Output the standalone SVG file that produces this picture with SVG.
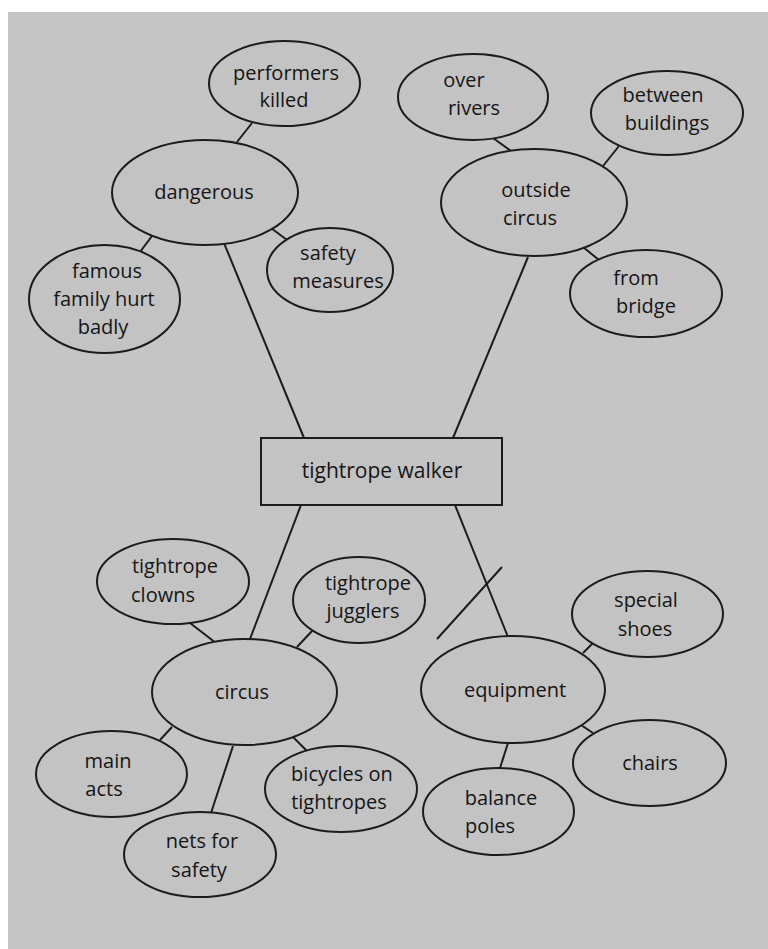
<svg xmlns="http://www.w3.org/2000/svg" width="768" height="949" viewBox="0 0 768 949">
<defs>
<style>
.bg{fill:#c5c5c5}
.n ellipse,.n rect{fill:#c3c3c3;stroke:#1c1c1c;stroke-width:2}
.n text{font-family:"Open Sans","Liberation Sans",sans-serif;font-size:20px;fill:#151515;text-anchor:middle}
.c line{stroke:#1c1c1c;stroke-width:2;fill:none}
</style>
</defs>
<rect width="768" height="949" fill="#ffffff"/>
<rect class="bg" x="8" y="12" width="760" height="937"/>
<g id="connectors" class="c">
<line x1="224" y1="243" x2="304" y2="438"/>
<line x1="528" y1="257" x2="453" y2="438"/>
<line x1="301" y1="505" x2="250" y2="639"/>
<line x1="455" y1="505" x2="508" y2="637"/>
<line x1="252" y1="123" x2="237" y2="142"/>
<line x1="152" y1="236" x2="140" y2="252"/>
<line x1="271" y1="228" x2="287" y2="240"/>
<line x1="493" y1="138" x2="511" y2="151"/>
<line x1="619" y1="146" x2="603" y2="166"/>
<line x1="583" y1="247" x2="599" y2="260"/>
<line x1="190" y1="623" x2="216" y2="643"/>
<line x1="313" y1="630" x2="297" y2="647"/>
<line x1="172" y1="727" x2="160" y2="740"/>
<line x1="233" y1="746" x2="211" y2="813"/>
<line x1="293" y1="737" x2="308" y2="752"/>
<line x1="583" y1="653" x2="593" y2="643"/>
<line x1="581" y1="725" x2="593" y2="733"/>
<line x1="508" y1="743" x2="500" y2="768"/>
<line x1="437" y1="639" x2="502" y2="567" stroke-width="1.5"/>
</g>
<g id="center" class="n"><rect x="261" y="438" width="241" height="67"/><text x="382" y="478" style="font-size:21px">tightrope walker</text></g>
<g id="dangerous" class="n"><ellipse cx="205" cy="192.5" rx="93" ry="52.5"/><text x="204" y="199">dangerous</text></g>
<g id="performers" class="n"><ellipse cx="284.5" cy="83.5" rx="75.5" ry="42.5"/><text x="286" y="80">performers</text><text x="284" y="107">killed</text></g>
<g id="famous" class="n"><ellipse cx="104.5" cy="299" rx="75.5" ry="54"/><text x="107" y="278">famous</text><text x="104" y="306">family hurt</text><text x="103" y="334">badly</text></g>
<g id="safety" class="n"><ellipse cx="330" cy="270" rx="63" ry="42"/><text x="328" y="260">safety</text><text x="338" y="288">measures</text></g>
<g id="outside" class="n"><ellipse cx="534" cy="202.5" rx="93" ry="53.5"/><text x="536" y="197">outside</text><text x="530" y="225">circus</text></g>
<g id="rivers" class="n"><ellipse cx="473" cy="97" rx="75" ry="43"/><text x="464" y="87">over</text><text x="474" y="115">rivers</text></g>
<g id="buildings" class="n"><ellipse cx="667" cy="113" rx="76" ry="42"/><text x="663" y="102">between</text><text x="667" y="130">buildings</text></g>
<g id="bridge" class="n"><ellipse cx="646" cy="293.5" rx="76" ry="43.5"/><text x="636" y="285">from</text><text x="646" y="313">bridge</text></g>
<g id="circus" class="n"><ellipse cx="244.5" cy="692" rx="92.5" ry="53"/><text x="242" y="699">circus</text></g>
<g id="clowns" class="n"><ellipse cx="173" cy="581.5" rx="76" ry="42.5"/><text x="175" y="573">tightrope</text><text x="163" y="602">clowns</text></g>
<g id="jugglers" class="n"><ellipse cx="359" cy="600" rx="66" ry="43"/><text x="368" y="590">tightrope</text><text x="363" y="618">jugglers</text></g>
<g id="mainacts" class="n"><ellipse cx="111.5" cy="774" rx="75.5" ry="43"/><text x="108" y="768">main</text><text x="104" y="796">acts</text></g>
<g id="nets" class="n"><ellipse cx="200" cy="854.5" rx="76" ry="42.5"/><text x="202" y="848">nets for</text><text x="199" y="877">safety</text></g>
<g id="bicycles" class="n"><ellipse cx="341" cy="789" rx="76" ry="43"/><text x="342" y="781">bicycles on</text><text x="339" y="809">tightropes</text></g>
<g id="equipment" class="n"><ellipse cx="513" cy="689.5" rx="92" ry="53.5"/><text x="515" y="697">equipment</text></g>
<g id="shoes" class="n"><ellipse cx="647.5" cy="614" rx="75.5" ry="43"/><text x="646" y="607">special</text><text x="645" y="636">shoes</text></g>
<g id="chairs" class="n"><ellipse cx="649.5" cy="763" rx="76.5" ry="43"/><text x="650" y="770">chairs</text></g>
<g id="balance" class="n"><ellipse cx="498.5" cy="811.5" rx="75.5" ry="43.5"/><text x="501" y="805">balance</text><text x="490" y="833">poles</text></g>
</svg>
